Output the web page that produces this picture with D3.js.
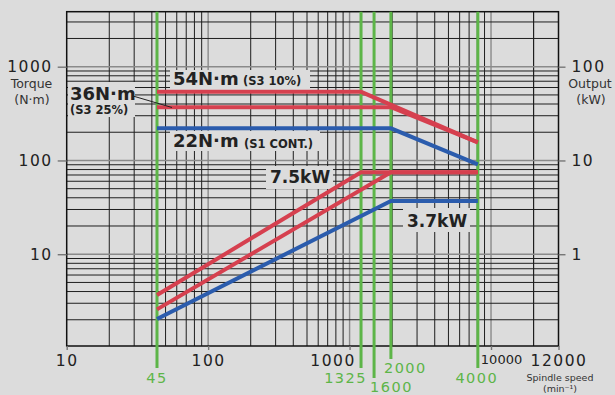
<!DOCTYPE html>
<html lang="en">
<head>
<meta charset="UTF-8">
<title>Spindle torque / output chart</title>
<script src="https://d3js.org/d3.v7.min.js"></script>
<style>
  body { margin: 0; background: #dcdcdc; }
  svg { display: block; font-family: "DejaVu Sans", sans-serif; }
</style>
</head>
<body>
<svg width="615" height="395"></svg>
<script>
// speed marks: where each printed speed sits on the log grid
const speedMarks  = [43.5, 1205, 1490, 1960, 8070];
const speedLabels = ["45", "1325", "1600", "2000", "4000"];

const xTickVals   = [10, 100, 1000, 10000, 30000];
const xTickLabels = ["10", "100", "1000", "10000", "12000"];
const torqueTicks = [10, 100, 1000];
const outputTicks = [1, 10, 100];

// torque curves (left axis), [speed, value]
const torque54 = [[43.5, 540], [1205, 540], [8070, 156]];
const torque36 = [[43.5, 370], [1960, 370], [8070, 156]];
const torque22 = [[43.5, 220], [1960, 220], [8070, 91]];
// output curves (right axis, kW)
const power75a = [[43.5, 0.367], [1205, 7.5], [8070, 7.5]];
const power75b = [[43.5, 0.258], [1960, 7.5], [8070, 7.5]];
const power37  = [[43.5, 0.204], [1960, 3.7], [8070, 3.7]];

const red = "#d6404f", blue = "#2b5cad", green = "#5db548";

const svg = d3.select("svg");
const x  = d3.scaleLog().domain([10, 30000]).range([66.7, 558.5]);
const yT = d3.scaleLog().domain([1.05, 3860]).range([346, 11.7]);
const yP = d3.scaleLog().domain([0.105, 386]).range([346, 11.7]);

// grid
const vGrid = [];
[10, 100, 1000, 10000].forEach(d => d3.range(1, 10).forEach(m => vGrid.push(m * d)));
vGrid.push(20000);
const hGrid = [];
[1, 10, 100, 1000].forEach(d => d3.range(1, 10).forEach(m => hGrid.push(m * d)));

const isDecade = v => Math.abs(Math.log10(v) - Math.round(Math.log10(v))) < 1e-9;

svg.append("g").selectAll("line")
  .data(vGrid.filter(v => v > 10 && v < 30000))
  .join("line")
  .attr("x1", d => x(d)).attr("x2", d => x(d))
  .attr("y1", yT.range()[1]).attr("y2", yT.range()[0])
  .attr("stroke", d => isDecade(d) ? "#8a8a8a" : "#1e1e1e")
  .attr("stroke-width", d => isDecade(d) ? 1.4 : 1);

svg.append("g").selectAll("line")
  .data(hGrid.filter(v => v > 1.05 && v < 3860))
  .join("line")
  .attr("x1", x.range()[0]).attr("x2", x.range()[1])
  .attr("y1", d => yT(d)).attr("y2", d => yT(d))
  .attr("stroke", d => isDecade(d) ? "#8a8a8a" : "#1e1e1e")
  .attr("stroke-width", d => isDecade(d) ? 1.4 : 1);

// frame
svg.append("rect")
  .attr("x", x.range()[0]).attr("y", yT.range()[1])
  .attr("width", x.range()[1] - x.range()[0])
  .attr("height", yT.range()[0] - yT.range()[1])
  .attr("fill", "none").attr("stroke", "#111").attr("stroke-width", 1.5);

// axes
const leftAxis = svg.append("g").attr("transform", `translate(${x.range()[0]},0)`)
  .call(d3.axisLeft(yT).tickValues(torqueTicks).tickSize(9).tickPadding(5).tickFormat(d3.format("d")));
const rightAxis = svg.append("g").attr("transform", `translate(${x.range()[1]},0)`)
  .call(d3.axisRight(yP).tickValues(outputTicks).tickSize(7).tickPadding(6).tickFormat(d3.format("d")));
const bottomAxis = svg.append("g").attr("transform", `translate(0,${yT.range()[0]})`)
  .call(d3.axisBottom(x).tickValues(xTickVals).tickSize(4).tickPadding(5)
    .tickFormat((d, i) => xTickLabels[i]));

[leftAxis, rightAxis, bottomAxis].forEach(g => {
  g.select(".domain").remove();
  g.selectAll(".tick line").attr("stroke", "#777").attr("stroke-width", 1.4);
  g.selectAll("text").attr("font-family", "DejaVu Sans, sans-serif")
    .attr("font-size", 15.5).attr("letter-spacing", 1.5).attr("fill", "#222");
});
const xLabelShift = [0, 0, -17, 10, 0];
bottomAxis.selectAll(".tick text")
  .attr("dx", (d, i) => xLabelShift[i])
  .attr("font-size", (d, i) => i === 3 ? 13 : 15.5)
  .attr("letter-spacing", (d, i) => i === 3 ? 0 : 1.5);

// green speed lines
const greenDrop  = [22, 22, 32, 13, 22];
const greenLabel = [
  { anchor: "middle", dx: 0,  y: 382.5 },
  { anchor: "end",    dx: 6,  y: 383 },
  { anchor: "start",  dx: -4, y: 392 },
  { anchor: "start",  dx: -7, y: 373 },
  { anchor: "middle", dx: -1, y: 383 }
];
svg.append("g").selectAll("line")
  .data(speedMarks)
  .join("line")
  .attr("x1", d => x(d)).attr("x2", d => x(d))
  .attr("y1", yT.range()[1])
  .attr("y2", (d, i) => yT.range()[0] + greenDrop[i])
  .attr("stroke", green).attr("stroke-width", 3);
svg.append("g").selectAll("text")
  .data(speedMarks)
  .join("text")
  .attr("x", (d, i) => x(d) + greenLabel[i].dx)
  .attr("y", (d, i) => greenLabel[i].y)
  .attr("text-anchor", (d, i) => greenLabel[i].anchor)
  .attr("font-size", 14.5).attr("letter-spacing", 1.5)
  .attr("fill", green)
  .text((d, i) => speedLabels[i]);

// label masks
const masks = [
  [170, 70, 140, 20], [68, 82, 67, 35], [170, 131, 150, 20],
  [266, 166, 67, 23], [403, 208, 67, 24]
];
svg.append("g").selectAll("rect")
  .data(masks)
  .join("rect")
  .attr("x", d => d[0]).attr("y", d => d[1])
  .attr("width", d => d[2]).attr("height", d => d[3])
  .attr("fill", "#dcdcdc");

// curves
const lineT = d3.line().x(d => x(d[0])).y(d => yT(d[1]));
const lineP = d3.line().x(d => x(d[0])).y(d => yP(d[1]));
const curves = [
  { d: lineP(power37), c: blue }, { d: lineT(torque22), c: blue },
  { d: lineP(power75b), c: red }, { d: lineP(power75a), c: red },
  { d: lineT(torque36), c: red }, { d: lineT(torque54), c: red }
];
svg.append("g").selectAll("path")
  .data(curves)
  .join("path")
  .attr("d", d => d.d)
  .attr("fill", "none")
  .attr("stroke", d => d.c)
  .attr("stroke-width", 4)
  .attr("stroke-linejoin", "miter");

// leader for 36 N·m
svg.append("line")
  .attr("x1", 133).attr("y1", 96).attr("x2", 172).attr("y2", 107.5)
  .attr("stroke", "#222").attr("stroke-width", 1);

// curve labels
const labels = [
  { t: "54N·m", x: 173, y: 85, s: 18 },
  { t: "(S3 10%)", x: 243, y: 84.5, s: 11.5 },
  { t: "36N·m", x: 70, y: 100, s: 18 },
  { t: "(S3 25%)", x: 70, y: 114, s: 11.5 },
  { t: "22N·m", x: 173, y: 147, s: 18 },
  { t: "(S1 CONT.)", x: 244, y: 147.5, s: 11.5 },
  { t: "7.5kW", x: 270, y: 183, s: 17 },
  { t: "3.7kW", x: 407, y: 227, s: 17 }
];
svg.append("g").selectAll("text")
  .data(labels)
  .join("text")
  .attr("x", d => d.x).attr("y", d => d.y)
  .attr("font-size", d => d.s)
  .attr("font-weight", "bold")
  .attr("fill", "#222")
  .text(d => d.t);

// axis titles
const titles = [
  { t: "Torque", x: 31.5, y: 88, s: 12.5 },
  { t: "(N·m)", x: 32, y: 104, s: 12.5 },
  { t: "Output", x: 590, y: 88, s: 12.5 },
  { t: "(kW)", x: 591, y: 104, s: 12.5 },
  { t: "Spindle speed", x: 560, y: 381, s: 9.5 }
];
svg.append("g").selectAll("text")
  .data(titles)
  .join("text")
  .attr("x", d => d.x).attr("y", d => d.y)
  .attr("text-anchor", "middle")
  .attr("font-size", d => d.s)
  .attr("fill", "#333")
  .text(d => d.t);
svg.append("text")
  .attr("x", 560).attr("y", 392).attr("text-anchor", "middle")
  .attr("font-size", 9.5).attr("fill", "#333")
  .text("(min⁻¹)");
</script>
</body>
</html>
